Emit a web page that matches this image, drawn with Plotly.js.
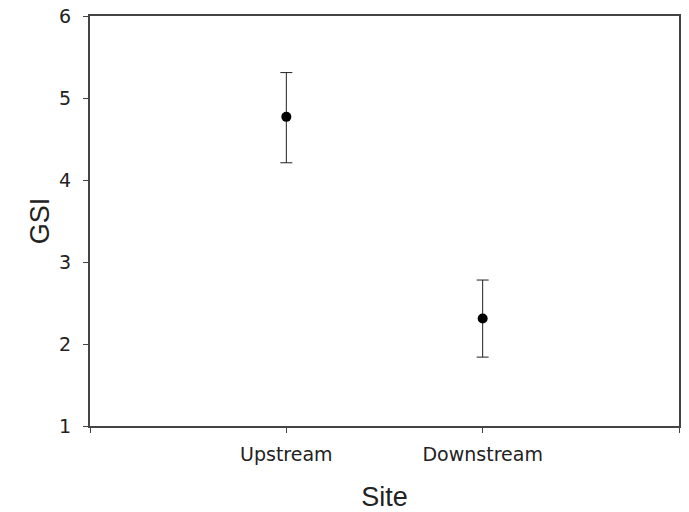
<!DOCTYPE html>
<html>
<head>
<meta charset="utf-8">
<script src="https://cdn.plot.ly/plotly-3.0.1.min.js"></script>
<style>html,body{margin:0;padding:0;background:#fff;}#chart{width:689px;height:512px;}</style>
</head>
<body>
<div id="chart"></div>
<script>
const categories = ['Upstream', 'Downstream'];
const gsiMean = [4.77, 2.31];
const errPlus = [0.54, 0.47];
const errMinus = [0.56, 0.47];
const yTicks = [1, 2, 3, 4, 5, 6];

const xPos = categories.map((c, i) => i);
const tickVals = [-1].concat(xPos, [categories.length]);
const tickText = [''].concat(categories, ['']);

const trace = {
  x: xPos,
  y: gsiMean,
  type: 'scatter',
  mode: 'markers',
  marker: {color: '#000', size: 10},
  error_y: {type: 'data', symmetric: false, array: errPlus, arrayminus: errMinus,
            color: '#222', thickness: 1, width: 6},
  hoverinfo: 'none'
};

const tickFont = {family: 'DejaVu Sans, sans-serif', size: 19, color: '#222'};
const titleFont = {family: 'Liberation Sans, Arial, sans-serif', size: 27, color: '#222'};

const layout = {
  width: 689, height: 512,
  margin: {l: 90, r: 10, t: 16, b: 86},
  paper_bgcolor: '#fff', plot_bgcolor: '#fff',
  showlegend: false,
  font: {family: 'Liberation Sans, Arial, sans-serif', color: '#222'},
  xaxis: {
    range: [-1, categories.length],
    tickvals: tickVals, ticktext: tickText,
    ticks: 'outside', ticklen: 5, tickcolor: '#444', tickwidth: 1,
    showline: true, linecolor: '#444', linewidth: 2, mirror: true,
    showgrid: false, zeroline: false,
    tickfont: tickFont,
    ticklabelstandoff: 5,
    title: {text: 'Site', font: titleFont, standoff: 23}
  },
  yaxis: {
    range: [1, 6],
    tickvals: yTicks,
    ticks: 'outside', ticklen: 5, tickcolor: '#444', tickwidth: 1,
    showline: true, linecolor: '#444', linewidth: 2, mirror: true,
    showgrid: false, zeroline: false,
    tickfont: tickFont,
    ticklabelstandoff: 8,
    title: {text: 'GSI', font: titleFont, standoff: 2}
  }
};

Plotly.newPlot('chart', [trace], layout, {displayModeBar: false, staticPlot: true});
</script>
</body>
</html>
